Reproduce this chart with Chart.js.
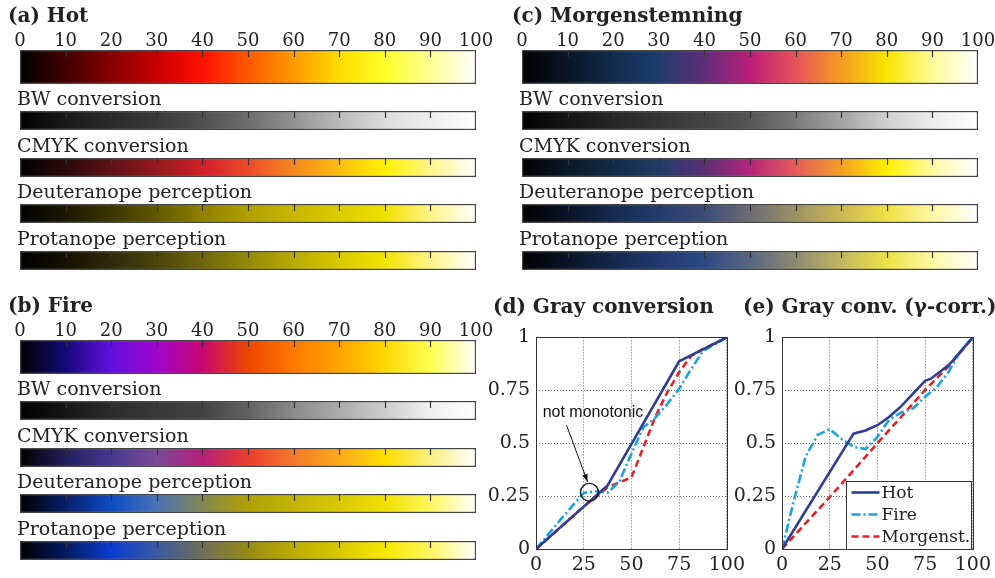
<!DOCTYPE html>
<html>
<head>
<meta charset="utf-8">
<script src="https://cdn.jsdelivr.net/npm/chart.js@4.4.1/dist/chart.umd.min.js"></script>
<style>
  html, body { margin: 0; padding: 0; background: #fff; overflow: hidden; }
  #fig { position: relative; width: 995px; height: 578px; overflow: hidden; background: #fff; }
  #fig canvas { position: absolute; }
  .ttl { position: absolute; font: bold 20px 'DejaVu Serif', serif; color: #222; white-space: nowrap; line-height: 20px; }
</style>
</head>
<body>
<div id="fig"></div>
<script>
// colour bar scale + stop positions (percent)
const cbTicks = [0, 10, 20, 30, 40, 50, 60, 70, 80, 90, 100];
const stopPos = [0, 10, 20, 30, 40, 50, 60, 70, 80, 90, 100];
const convLabels = ['BW conversion', 'CMYK conversion', 'Deuteranope perception', 'Protanope perception'];

const hotMain  = ['#000000','#420000','#860000','#c80000','#ff1000','#ff5800','#ff9a00','#ffdc00','#ffff2a','#ffff95','#ffffff'];
const hotBW    = ['#000000','#1a1a1a','#2a2a2a','#3a3a3a','#505050','#6e6e6e','#929292','#bababa','#dcdcdc','#eeeeee','#ffffff'];
const hotCMYK  = ['#000000','#2c0b0c','#5e1216','#941a20','#d0202a','#ec4a2a','#f5891f','#fbbd12','#fff100','#fff58a','#ffffff'];
const hotDeut  = ['#000000','#1c1900','#3c3600','#625800','#8e8000','#b0a000','#c8b600','#dccb00','#efe000','#fff488','#ffffff'];
const hotProt  = ['#000000','#141200','#2e2a0a','#4a440c','#6e660c','#948a08','#b8aa00','#d8c800','#f2e400','#fff488','#ffffff'];

const fireMain = ['#000000','#140a7a','#6010e0','#a006cc','#c80470','#ee4600','#ff7a00','#ffa400','#ffd800','#ffff50','#ffffff'];
const fireBW   = ['#000000','#161616','#2c2c2c','#383838','#424242','#626262','#8a8a8a','#acacac','#cccccc','#f0f0f0','#ffffff'];
const fireCMYK = ['#000000','#231f5c','#46398e','#7a4a98','#b42078','#ec3c2e','#f47a2a','#f9aa1a','#ffde00','#f8f080','#ffffff'];
const fireDeut = ['#000000','#0a1e6a','#0c4cc4','#4a72b4','#848656','#b0a000','#c4b400','#d8c800','#f0e000','#fff660','#ffffff'];
const fireProt = ['#000000','#061a60','#0a3cd0','#3a5aa0','#6e6e5a','#968c14','#bcac00','#d8c800','#f8e800','#fff660','#ffffff'];

const morgMain = ['#000000','#0a1628','#102c4c','#1e3c6c','#602c78','#bc1e78','#e8525a','#f59c22','#f8e600','#fefa9a','#ffffff'];
const morgBW   = ['#000000','#151515','#262626','#353535','#444444','#555555','#7a7a7a','#a4a4a4','#cfcfcf','#ececec','#ffffff'];
const morgCMYK = ['#000000','#0a1a28','#112c48','#1f3c66','#5c3076','#b4247a','#e65c5c','#f3a024','#fff000','#fff9a4','#ffffff'];
const morgDeut = ['#000000','#0b1426','#162a4e','#243c6e','#3c4a78','#6c6c72','#9c9264','#cbb854','#eee044','#fff8a4','#ffffff'];
const morgProt = ['#000000','#0a1426','#14284e','#1f3a70','#2c4a82','#586680','#8c8a70','#c2b660','#ece244','#fff8a4','#ffffff'];

// (d) gray conversion
const grayHotX  = [0, 37.5, 75, 100];
const grayHot   = [0, 0.30, 0.887, 1];
const grayFireX = [0, 12.5, 25, 31.25, 37.5, 43.75, 50, 56.25, 62.5, 68.75, 75, 81.25, 87.5, 100];
const grayFire  = [0, 0.135, 0.265, 0.272, 0.266, 0.32, 0.45, 0.575, 0.62, 0.685, 0.757, 0.85, 0.935, 1];
const grayMorgX = [0, 12.5, 25, 37.5, 43.75, 50, 56.25, 62.5, 68.75, 75, 81.25, 87.5, 100];
const grayMorg  = [0, 0.1, 0.2, 0.292, 0.315, 0.338, 0.48, 0.625, 0.74, 0.835, 0.912, 0.945, 1];

// (e) gamma corrected
const gamHotX  = [0, 37.5, 43.75, 50, 56.25, 62.5, 68.75, 75, 78, 87.5, 100];
const gamHot   = [0, 0.545, 0.56, 0.585, 0.625, 0.675, 0.735, 0.795, 0.805, 0.87, 1];
const gamFireX = [0, 6.25, 12.5, 18.75, 25, 31.25, 37.5, 43.75, 50, 56.25, 62.5, 68.75, 75, 81.25, 87.5, 93.75, 100];
const gamFire  = [0, 0.23, 0.44, 0.54, 0.566, 0.52, 0.483, 0.472, 0.53, 0.612, 0.645, 0.665, 0.72, 0.765, 0.84, 0.94, 1];
const gamMorgX = [0, 25, 50, 62.5, 75, 87.5, 100];
const gamMorg  = [0, 0.245, 0.5, 0.625, 0.752, 0.865, 1];

const lineTicksX = [0, 25, 50, 75, 100];
const lineTicksY = [0, 0.25, 0.5, 0.75, 1];

// "not monotonic" note, in data units of panel (d)
const noteText = 'not monotonic';
const noteAt = [3.5, 0.645];
const arrowFrom = [16, 0.585];
const arrowTo = [27, 0.318];
const ringAt = [28, 0.268];

Chart.defaults.font.family = "'DejaVu Serif', serif";
Chart.defaults.color = '#222';

const fig = document.getElementById('fig');
function addCanvas(left, top, w, h) {
    const c = document.createElement('canvas');
    c.width = w; c.height = h;
    c.style.left = left + 'px'; c.style.top = top + 'px';
    fig.appendChild(c);
    return c;
}
function addTitle(text, left, baseline) {
    const d = document.createElement('div');
    d.className = 'ttl';
    d.textContent = text;
    d.style.left = left + 'px';
    d.style.top = (baseline - 17) + 'px';
    fig.appendChild(d);
}

function stripGradient(chart, stops) {
    const xs = chart.scales.x;
    if (!xs || !chart.chartArea) return stops[0];
    const x0 = xs.getPixelForValue(0), x1 = xs.getPixelForValue(100);
    if (!isFinite(x0) || !isFinite(x1) || x1 <= x0) return stops[0];
    const g = chart.ctx.createLinearGradient(x0, 0, x1, 0);
    stops.forEach((c, i) => g.addColorStop(stopPos[i] / 100, c));
    return g;
}

// inner tick marks on the top edge + label above the strip
const stripDeco = {
    id: 'stripDeco',
    afterDatasetsDraw(chart, args, opts) {
        const ctx = chart.ctx;
        const bar = chart.getDatasetMeta(0).data[0];
        const xs = chart.scales.x;
        const top = bar.y - bar.height / 2;
        ctx.save();
        ctx.strokeStyle = '#333';
        ctx.lineWidth = 1.2;
        cbTicks.forEach(v => {
            if (v === 0 || v === 100) return;
            const px = Math.round(xs.getPixelForValue(v)) + 0.5;
            ctx.beginPath();
            ctx.moveTo(px, top);
            ctx.lineTo(px, top + 7);
            ctx.stroke();
        });
        if (opts.text) {
            ctx.fillStyle = '#222';
            ctx.font = "19px 'DejaVu Serif'";
            ctx.textBaseline = 'alphabetic';
            ctx.fillText(opts.text, chart.chartArea.left - 3, top - 6);
        }
        ctx.restore();
    }
};

function makeStrip(canvas, stops, label, main) {
    return new Chart(canvas, {
        type: 'bar',
        data: {
            labels: [label],
            datasets: [{
                data: [100],
                backgroundColor: (c) => stripGradient(c.chart, stops),
                borderColor: '#444',
                borderWidth: 1.5,
                borderSkipped: false,
                barPercentage: 1,
                categoryPercentage: 1
            }]
        },
        options: {
            indexAxis: 'y',
            responsive: false,
            animation: false,
            events: [],
            layout: { padding: { left: 20, right: 24, top: main ? 0 : 26, bottom: 0 } },
            plugins: {
                legend: { display: false },
                tooltip: { enabled: false },
                stripDeco: { text: main ? '' : label }
            },
            scales: {
                x: {
                    min: 0, max: 100,
                    position: 'top',
                    display: main,
                    ticks: { stepSize: 10, font: { size: 18 }, color: '#222', padding: -2, maxRotation: 0, autoSkip: false },
                    grid: { display: false, drawTicks: false },
                    border: { display: false },
                    afterFit: (s) => { if (main) s.height = 24; }
                },
                y: { display: false }
            }
        },
        plugins: [stripDeco]
    });
}

const mainTop = 50;
const subTops = [111, 158, 204, 251];
function makePanel(ox, oy, maps) {
    makeStrip(addCanvas(ox, oy + mainTop - 24, 500, 58), maps[0], 'main', true);
    convLabels.forEach((lab, i) => {
        makeStrip(addCanvas(ox, oy + subTops[i] - 26, 500, 45), maps[i + 1], lab, false);
    });
}

makePanel(0, 0, [hotMain, hotBW, hotCMYK, hotDeut, hotProt]);
makePanel(0, 290, [fireMain, fireBW, fireCMYK, fireDeut, fireProt]);
makePanel(502, 0, [morgMain, morgBW, morgCMYK, morgDeut, morgProt]);

addTitle('(a) Hot', 8, 22);
addTitle('(b) Fire', 8, 312);
addTitle('(c) Morgenstemning', 512, 22);
addTitle('(d) Gray conversion', 493, 313);
addTitle('(e) Gray conv. (\u03b3-corr.)', 743, 313);

// ---- line panels ----
const pts = (xs, ys) => xs.map((x, i) => ({ x: x, y: ys[i] }));

const frameBox = {
    id: 'frameBox',
    afterDatasetsDraw(chart) {
        const { ctx, chartArea: a } = chart;
        ctx.save();
        ctx.strokeStyle = '#333';
        ctx.lineWidth = 1;
        ctx.strokeRect(Math.round(a.left) + 0.5, Math.round(a.top) + 0.5, Math.round(a.right - a.left), Math.round(a.bottom - a.top));
        ctx.restore();
    }
};

const boxLegend = {
    id: 'boxLegend',
    afterDraw(chart, args, opts) {
        if (!opts.display) return;
        const { ctx, chartArea: a } = chart;
        const w = 125, h = 68;
        const x0 = Math.round(a.right) - w - 2 + 0.5, y0 = Math.round(a.bottom) - h + 0.5;
        ctx.save();
        ctx.fillStyle = '#fff';
        ctx.fillRect(x0, y0, w, h);
        ctx.strokeStyle = '#333';
        ctx.lineWidth = 1;
        ctx.strokeRect(x0, y0, w, h);
        ctx.font = "17px 'DejaVu Serif'";
        ctx.textBaseline = 'middle';
        chart.data.datasets.forEach((ds, i) => {
            const y = y0 + 11 + i * 22;
            ctx.strokeStyle = ds.borderColor;
            ctx.lineWidth = ds.borderWidth;
            ctx.setLineDash(ds.borderDash || []);
            ctx.beginPath();
            ctx.moveTo(x0 + 5, y);
            ctx.lineTo(x0 + 33, y);
            ctx.stroke();
            ctx.setLineDash([]);
            ctx.fillStyle = '#222';
            ctx.fillText(ds.label, x0 + 35, y + 1);
        });
        ctx.restore();
    }
};

const notePlugin = {
    id: 'notePlugin',
    afterDraw(chart, args, opts) {
        if (!opts.display) return;
        const { ctx } = chart;
        const xs = chart.scales.x, ys = chart.scales.y;
        const P = (p) => [xs.getPixelForValue(p[0]), ys.getPixelForValue(p[1])];
        ctx.save();
        ctx.fillStyle = '#111';
        ctx.font = "16px 'Liberation Sans', Arial, sans-serif";
        ctx.textBaseline = 'middle';
        const t = P(noteAt);
        ctx.fillText(noteText, t[0], t[1]);
        const f = P(arrowFrom), e = P(arrowTo);
        ctx.strokeStyle = '#111';
        ctx.lineWidth = 1;
        ctx.beginPath();
        ctx.moveTo(f[0], f[1]);
        ctx.lineTo(e[0], e[1]);
        ctx.stroke();
        const ang = Math.atan2(e[1] - f[1], e[0] - f[0]);
        ctx.beginPath();
        ctx.moveTo(e[0], e[1]);
        ctx.lineTo(e[0] - 8 * Math.cos(ang - 0.35), e[1] - 8 * Math.sin(ang - 0.35));
        ctx.lineTo(e[0] - 8 * Math.cos(ang + 0.35), e[1] - 8 * Math.sin(ang + 0.35));
        ctx.closePath();
        ctx.fill();
        const r = P(ringAt);
        ctx.lineWidth = 1.3;
        ctx.beginPath();
        ctx.arc(r[0], r[1], 9, 0, Math.PI * 2);
        ctx.stroke();
        ctx.restore();
    }
};

function makeGray(canvas, series, showLegend, showNote) {
    return new Chart(canvas, {
        type: 'line',
        data: {
            datasets: series.map(s => ({
                label: s.label,
                data: pts(s.xs, s.ys),
                borderColor: s.color,
                borderWidth: 2.6,
                borderDash: s.dash,
                pointRadius: 0,
                tension: 0,
                fill: false
            }))
        },
        options: {
            responsive: false,
            animation: false,
            events: [],
            layout: { padding: { top: 17, right: 19, left: 0, bottom: 0 } },
            plugins: {
                legend: { display: false },
                tooltip: { enabled: false },
                boxLegend: { display: showLegend },
                notePlugin: { display: showNote }
            },
            scales: {
                x: {
                    type: 'linear', min: 0, max: 100,
                    afterBuildTicks: (s) => { s.ticks = lineTicksX.map(v => ({ value: v })); },
                    ticks: { font: { size: 19 }, color: '#222', padding: 5, maxRotation: 0, callback: (v) => String(v) },
                    grid: { color: '#666', lineWidth: 1, drawTicks: false },
                    border: { display: false, dash: [1, 2] },
                    afterFit: (s) => { s.height = 29; }
                },
                y: {
                    min: 0, max: 1,
                    afterBuildTicks: (s) => { s.ticks = lineTicksY.map(v => ({ value: v })); },
                    ticks: { font: { size: 19 }, color: '#222', padding: 6, callback: (v) => String(v) },
                    grid: { color: '#666', lineWidth: 1, drawTicks: false },
                    border: { display: false, dash: [1, 2] },
                    afterFit: (s) => { s.width = 56; }
                }
            }
        },
        plugins: [frameBox, boxLegend, notePlugin]
    });
}

const hotStyle  = { label: 'Hot', color: '#2f3e94', dash: [] };
const fireStyle = { label: 'Fire', color: '#1aa3e0', dash: [9, 3, 2, 3] };
const morgStyle = { label: 'Morgenst.', color: '#e3202a', dash: [7, 4] };

makeGray(addCanvas(480, 320, 270, 258), [
    Object.assign({ xs: grayHotX, ys: grayHot }, hotStyle),
    Object.assign({ xs: grayFireX, ys: grayFire }, fireStyle),
    Object.assign({ xs: grayMorgX, ys: grayMorg }, morgStyle)
], false, true);

makeGray(addCanvas(726, 320, 270, 258), [
    Object.assign({ xs: gamHotX, ys: gamHot }, hotStyle),
    Object.assign({ xs: gamFireX, ys: gamFire }, fireStyle),
    Object.assign({ xs: gamMorgX, ys: gamMorg }, morgStyle)
], true, false);
</script>
</body>
</html>
